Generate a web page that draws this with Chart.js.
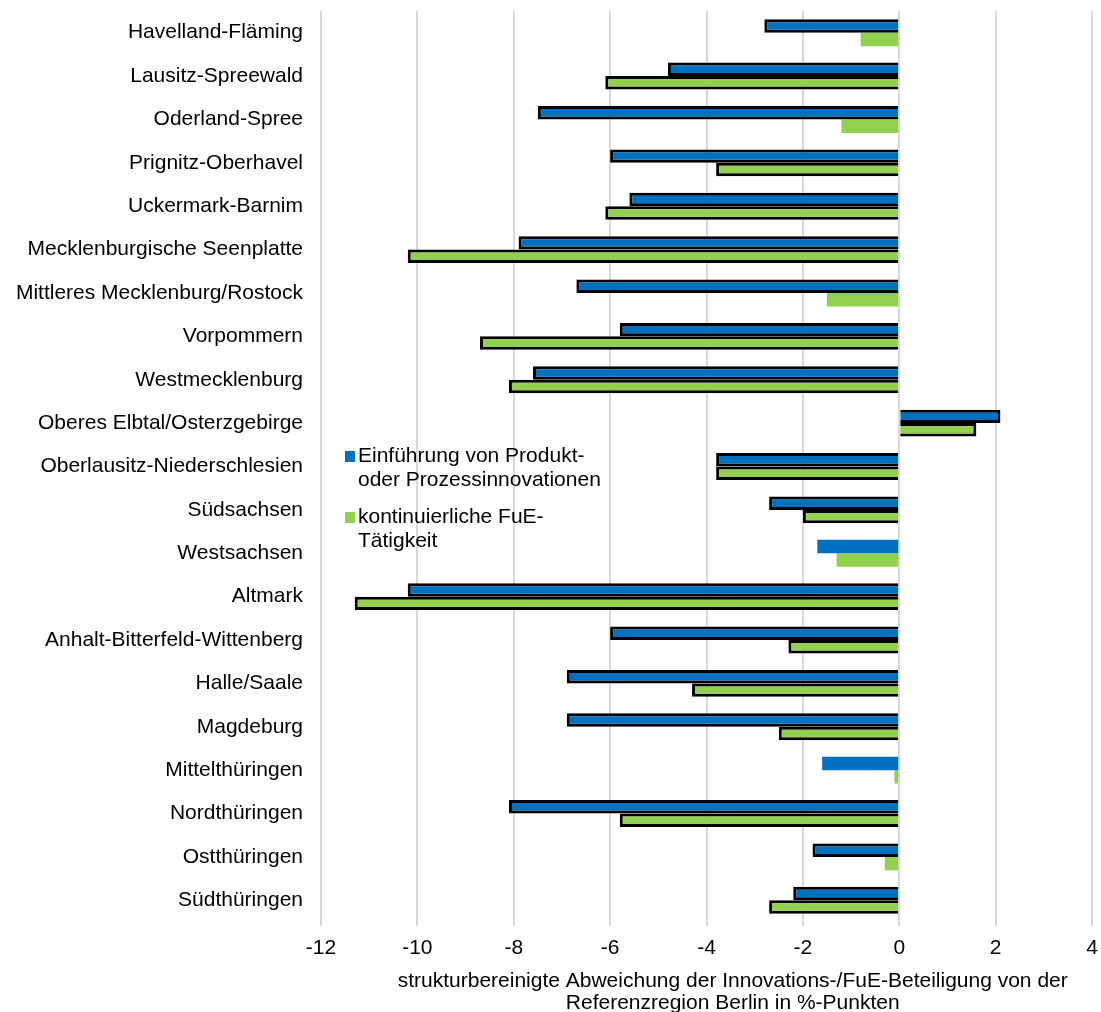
<!DOCTYPE html>
<html>
<head>
<meta charset="utf-8">
<script src="https://cdn.jsdelivr.net/npm/chart.js@4.4.1/dist/chart.umd.min.js"></script>
<style>
  body { margin: 0; background: #fff; }
  #wrap { position: relative; width: 1101px; height: 1012px; }
  #legend { position: absolute; left: 345px; top: 443px; font: 21px "Liberation Sans", Arial, sans-serif; color: #000; }
  .item { display: flex; align-items: flex-start; margin-bottom: 13px; }
  .box { width: 10px; height: 11px; margin-top: 8px; margin-right: 3px; flex: none; }
  .txt { line-height: 24px; white-space: pre; }
</style>
</head>
<body>
<div id="wrap">
  <canvas id="chart" width="1101" height="1012"></canvas>
  <div id="legend"></div>
</div>
<script>
const regions = [
  'Havelland-Fläming', 'Lausitz-Spreewald', 'Oderland-Spree', 'Prignitz-Oberhavel',
  'Uckermark-Barnim', 'Mecklenburgische Seenplatte', 'Mittleres Mecklenburg/Rostock',
  'Vorpommern', 'Westmecklenburg', 'Oberes Elbtal/Osterzgebirge',
  'Oberlausitz-Niederschlesien', 'Südsachsen', 'Westsachsen', 'Altmark',
  'Anhalt-Bitterfeld-Wittenberg', 'Halle/Saale', 'Magdeburg', 'Mittelthüringen',
  'Nordthüringen', 'Ostthüringen', 'Südthüringen'
]

// Einführung von Produkt- oder Prozessinnovationen
const innovation = [-2.8, -4.8, -7.5, -6.0, -5.6, -7.9, -6.7, -5.8, -7.6, 2.1, -3.8,
  -2.7, -1.7, -10.2, -6.0, -6.9, -6.9, -1.6, -8.1, -1.8, -2.2]
// kontinuierliche FuE-Tätigkeit
const fue = [-0.8, -6.1, -1.2, -3.8, -6.1, -10.2, -1.5, -8.7, -8.1, 1.6, -3.8,
  -2.0, -1.3, -11.3, -2.3, -4.3, -2.5, -0.1, -5.8, -0.3, -2.7]

// 1 = significant (bar drawn with black frame)
const sigInnovation = [1, 1, 1, 1, 1, 1, 1, 1, 1, 1, 1, 1, 0, 1, 1, 1, 1, 0, 1, 1, 1]
const sigFue = [0, 1, 0, 1, 1, 1, 0, 1, 1, 1, 1, 1, 0, 1, 1, 1, 1, 0, 1, 0, 1]

const xTicks = { min: -12, max: 4, step: 2 }
const seriesNames = ['Einführung von Produkt-\noder Prozessinnovationen', 'kontinuierliche FuE-\nTätigkeit']
const axisTitle = ['strukturbereinigte Abweichung der Innovations-/FuE-Beteiligung von der',
  'Referenzregion Berlin in %-Punkten']

const font = '"Liberation Sans", Arial, sans-serif'
Chart.defaults.font.family = font
Chart.defaults.font.size = 21
Chart.defaults.color = '#000'

const colors = ['#0070C0', '#92D050']

// draw the axis title a bit right of centre, like the original
const titlePlugin = {
  id: 'axisTitleText',
  afterDraw(chart) {
    const { ctx, chartArea } = chart
    const cx = chartArea.left + chartArea.width * 0.534
    ctx.save()
    ctx.font = '21px ' + font
    ctx.fillStyle = '#000'
    ctx.textAlign = 'center'
    ctx.textBaseline = 'alphabetic'
    ctx.fillText(axisTitle[0], cx, chartArea.bottom + 65)
    ctx.fillText(axisTitle[1], cx, chartArea.bottom + 87)
    ctx.restore()
  }
}

const chart = new Chart(document.getElementById('chart'), {
  type: 'bar',
  data: {
    labels: regions,
    datasets: [
      {
        label: seriesNames[0],
        data: innovation,
        backgroundColor: colors[0],
        borderColor: '#000',
        borderWidth: sigInnovation.map(s => s ? 3 : 0),
      },
      {
        label: seriesNames[1],
        data: fue,
        backgroundColor: colors[1],
        borderColor: '#000',
        borderWidth: sigFue.map(s => s ? 3 : 0),
      },
    ],
  },
  options: {
    indexAxis: 'y',
    responsive: false,
    animation: false,
    devicePixelRatio: 1,
    categoryPercentage: 0.62,
    barPercentage: 1,
    layout: { padding: { top: 11, right: 9, left: 0, bottom: 0 } },
    plugins: {
      legend: { display: false },
      tooltip: { enabled: false },
    },
    scales: {
      x: {
        min: xTicks.min,
        max: xTicks.max,
        ticks: { stepSize: xTicks.step, padding: 10, color: '#000' },
        grid: { color: '#d9d9d9', lineWidth: 2, tickLength: 4 },
        border: { display: false },
        afterFit(scale) {
          scale.height = 90
          scale.paddingLeft = 0
          scale.paddingRight = 0
        },
      },
      y: {
        ticks: { padding: 18, color: '#000', autoSkip: false },
        grid: { display: false, drawTicks: false },
        border: { display: false },
        afterFit(scale) {
          scale.width = 321
          scale.paddingTop = 0
          scale.paddingBottom = 0
        },
      },
    },
  },
  plugins: [titlePlugin],
})

// legend as text next to the bars
const legend = document.getElementById('legend')
chart.data.datasets.forEach((ds, i) => {
  const item = document.createElement('div')
  item.className = 'item'
  const box = document.createElement('div')
  box.className = 'box'
  box.style.background = ds.backgroundColor
  const txt = document.createElement('div')
  txt.className = 'txt'
  txt.textContent = ds.label
  item.appendChild(box)
  item.appendChild(txt)
  legend.appendChild(item)
})
</script>
</body>
</html>
